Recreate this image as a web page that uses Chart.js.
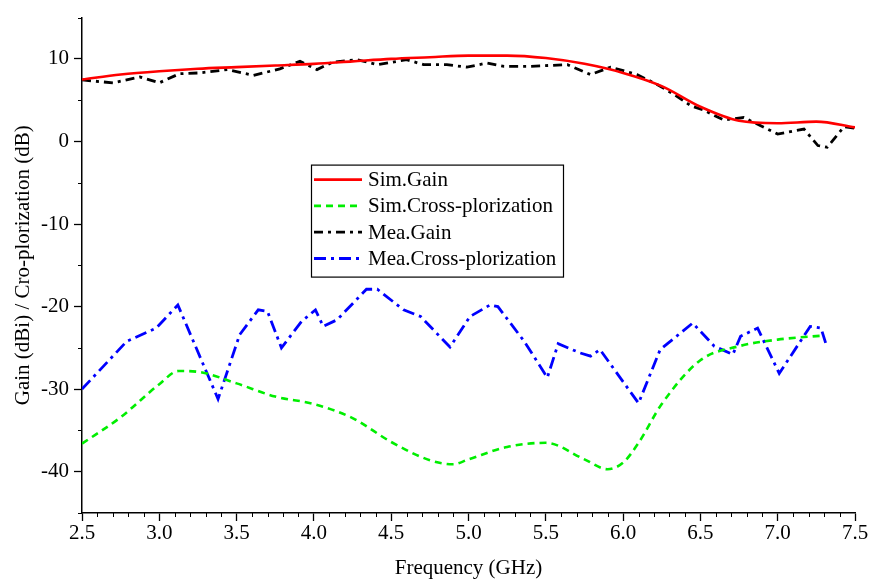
<!DOCTYPE html>
<html>
<head>
<meta charset="utf-8">
<title>Gain / Cross-polarization</title>
<script src="https://cdn.jsdelivr.net/npm/chart.js@4/dist/chart.umd.min.js"></script>
<style>
    html, body { margin: 0; padding: 0; background: #fff; }
    canvas { display: block; }
</style>
</head>
<body>
<canvas id="gainChart" width="872" height="579"></canvas>
<script>
// --- data ---
const simGainFreq = [2.5, 2.75, 3.0, 3.25, 3.5, 3.75, 4.0, 4.25, 4.5, 4.75, 5.0, 5.25, 5.5, 5.75, 6.0, 6.25, 6.5, 6.75, 7.0, 7.25, 7.5];
const simGain = [7.5, 8.1, 8.5, 8.8, 9.0, 9.2, 9.4, 9.7, 10.0, 10.2, 10.4, 10.4, 10.1, 9.4, 8.3, 6.7, 4.2, 2.5, 2.2, 2.4, 1.7];

const simCrossFreq = [2.5, 2.75, 3.0, 3.125, 3.25, 3.5, 3.75, 4.0, 4.25, 4.5, 4.75, 4.9, 5.0, 5.25, 5.5, 5.75, 5.9, 6.0, 6.1, 6.25, 6.5, 6.75, 7.0, 7.3];
const simCross = [-36.6, -33.4, -29.4, -27.8, -27.9, -29.3, -30.9, -31.8, -33.5, -36.4, -38.6, -39.1, -38.5, -37.0, -36.5, -38.5, -39.7, -38.9, -36.5, -31.8, -26.5, -24.8, -24.0, -23.5];

const meaGainFreq = [2.5, 2.7, 2.875, 3.0, 3.13, 3.26, 3.44, 3.61, 3.78, 3.91, 4.02, 4.12, 4.28, 4.41, 4.6, 4.71, 4.86, 4.99, 5.12, 5.23, 5.4, 5.64, 5.79, 5.92, 6.09, 6.22, 6.33, 6.44, 6.52, 6.65, 6.78, 6.89, 7.0, 7.17, 7.26, 7.32, 7.43, 7.5];
const meaGain = [7.45, 7.1, 7.8, 7.1, 8.2, 8.3, 8.7, 8.0, 8.8, 9.7, 8.7, 9.6, 9.9, 9.3, 9.9, 9.3, 9.3, 9.0, 9.5, 9.1, 9.1, 9.3, 8.1, 9.0, 8.1, 6.9, 5.7, 4.3, 3.8, 2.6, 2.9, 1.9, 0.9, 1.5, -0.5, -0.7, 1.8, 1.6];

const meaCrossFreq = [2.5, 2.79, 2.98, 3.12, 3.38, 3.52, 3.64, 3.7, 3.79, 3.92, 4.01, 4.06, 4.15, 4.34, 4.41, 4.58, 4.69, 4.88, 5.01, 5.14, 5.19, 5.36, 5.51, 5.58, 5.72, 5.79, 5.85, 6.1, 6.24, 6.45, 6.59, 6.71, 6.76, 6.87, 7.01, 7.21, 7.28, 7.31];
const meaCross = [-30.0, -24.2, -22.6, -19.8, -31.2, -23.4, -20.4, -20.6, -25.0, -21.8, -20.4, -22.4, -21.6, -17.9, -17.9, -20.4, -21.2, -24.9, -21.2, -19.8, -20.0, -24.2, -28.6, -24.5, -25.6, -26.0, -25.2, -31.7, -25.2, -22.0, -24.8, -25.8, -23.6, -22.6, -28.1, -22.4, -22.6, -24.4];

const seriesNames = ['Sim.Gain', 'Sim.Cross-plorization', 'Mea.Gain', 'Mea.Cross-plorization'];
const xTicks = [2.5, 3.0, 3.5, 4.0, 4.5, 5.0, 5.5, 6.0, 6.5, 7.0, 7.5];
const yTicks = [-40, -30, -20, -10, 0, 10];

const toPoints = (xs, ys) => xs.map((x, i) => ({ x: x, y: ys[i] }));

const FONT = "'Liberation Serif', 'Times New Roman', serif";

// minor ticks (Chart.js has none of its own)
const minorTicks = {
    id: 'minorTicks',
    afterDraw(chart) {
        const ctx = chart.ctx;
        const xs = chart.scales.x;
        const ys = chart.scales.y;
        ctx.save();
        ctx.strokeStyle = '#000';
        ctx.lineWidth = 1;
        ctx.beginPath();
        for (let i = 25; i <= 75; i++) {
            if (i % 5 === 0) continue;
            const px = Math.round(xs.getPixelForValue(i / 10)) + 0.5;
            ctx.moveTo(px, ys.bottom);
            ctx.lineTo(px, ys.bottom + 4);
        }
        for (let v = -45; v <= 15; v += 10) {
            const py = Math.round(ys.getPixelForValue(v)) + 0.5;
            ctx.moveTo(xs.left - 4, py);
            ctx.lineTo(xs.left, py);
        }
        ctx.stroke();
        ctx.restore();
    }
};

// boxed legend drawn inside the plot area
const boxLegend = {
    id: 'boxLegend',
    afterDraw(chart) {
        const ctx = chart.ctx;
        const area = chart.chartArea;
        const left = area.left + 229;
        const top = area.top + 147;
        const w = 252, h = 112, rowH = 26.3;
        ctx.save();
        ctx.fillStyle = '#fff';
        ctx.fillRect(left, top, w, h);
        ctx.strokeStyle = '#000';
        ctx.lineWidth = 1.2;
        ctx.strokeRect(left + 0.5, top + 0.5, w, h);
        ctx.font = '21px ' + FONT;
        ctx.textBaseline = 'middle';
        chart.data.datasets.forEach((ds, i) => {
            const y = top + 15 + i * rowH;
            ctx.beginPath();
            ctx.strokeStyle = ds.borderColor;
            ctx.lineWidth = ds.borderWidth;
            ctx.setLineDash(ds.borderDash || []);
            ctx.moveTo(left + 3, y);
            ctx.lineTo(left + 51, y);
            ctx.stroke();
            ctx.setLineDash([]);
            ctx.fillStyle = '#000';
            ctx.fillText(ds.label, left + 57, y + 1);
        });
        ctx.restore();
    }
};

new Chart(document.getElementById('gainChart').getContext('2d'), {
    type: 'line',
    data: {
        datasets: [
            { label: seriesNames[0], data: toPoints(simGainFreq, simGain), borderColor: '#ff0000', borderWidth: 2.6, cubicInterpolationMode: 'monotone', pointRadius: 0 },
            { label: seriesNames[1], data: toPoints(simCrossFreq, simCross), borderColor: '#00ee00', borderWidth: 2.6, borderDash: [7, 5], cubicInterpolationMode: 'monotone', pointRadius: 0 },
            { label: seriesNames[2], data: toPoints(meaGainFreq, meaGain), borderColor: '#000000', borderWidth: 2.8, borderDash: [9, 5, 3, 5], tension: 0, pointRadius: 0 },
            { label: seriesNames[3], data: toPoints(meaCrossFreq, meaCross), borderColor: '#0000ff', borderWidth: 2.8, borderDash: [12, 5, 3, 5], tension: 0, pointRadius: 0 }
        ]
    },
    options: {
        responsive: false,
        animation: false,
        layout: { padding: { top: 15, right: 17, left: 0, bottom: 0 } },
        plugins: {
            legend: { display: false },
            tooltip: { enabled: false }
        },
        scales: {
            x: {
                type: 'linear',
                min: 2.5,
                max: 7.5,
                afterBuildTicks: (axis) => { axis.ticks = xTicks.map(v => ({ value: v })); },
                afterFit: (axis) => { axis.height = 66; },
                grid: { drawOnChartArea: false, drawTicks: true, tickLength: 8, tickColor: '#000', tickWidth: 1.3 },
                border: { display: true, color: '#000', width: 1.5 },
                ticks: { color: '#000', font: { family: FONT, size: 21 }, padding: 0, maxRotation: 0, callback: (v) => Number(v).toFixed(1) },
                title: { display: true, text: 'Frequency (GHz)', color: '#000', font: { family: FONT, size: 21 }, padding: { top: 0, bottom: -2 } }
            },
            y: {
                type: 'linear',
                min: -45,
                max: 15,
                afterBuildTicks: (axis) => { axis.ticks = yTicks.map(v => ({ value: v })); },
                afterFit: (axis) => { axis.width = 82; },
                grid: { drawOnChartArea: false, drawTicks: true, tickLength: 8, tickColor: '#000', tickWidth: 1.3 },
                border: { display: true, color: '#000', width: 1.5 },
                ticks: { color: '#000', font: { family: FONT, size: 21 }, padding: 5 },
                title: { display: true, text: 'Gain (dBi) / Cro-plorization (dB)', color: '#000', font: { family: FONT, size: 21 }, padding: { top: 11, bottom: 0 } }
            }
        }
    },
    plugins: [minorTicks, boxLegend]
});
</script>
</body>
</html>
